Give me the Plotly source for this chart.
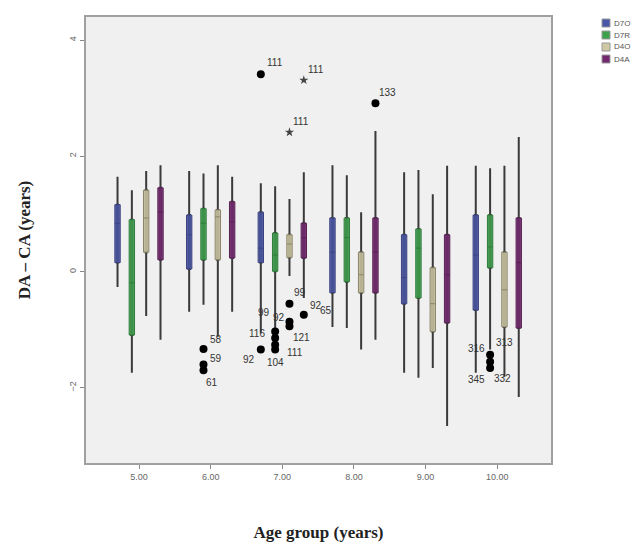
import plotly.graph_objects as go

# ---------------- data ----------------
groups = [5, 6, 7, 8, 9, 10]
tick_labels = ["5.00", "6.00", "7.00", "8.00", "9.00", "10.00"]
series = ["D7O", "D7R", "D4O", "D4A"]

d7o_upper = [1.64, 1.74, 1.53, 1.84, 1.72, 1.83]
d7o_q3 = [1.16, 0.98, 1.03, 0.93, 0.64, 0.98]
d7o_med = [0.84, 0.64, 0.41, 0.34, -0.10, 0.29]
d7o_q1 = [0.16, 0.05, 0.16, -0.36, -0.55, -0.66]
d7o_lower = [-0.26, -0.69, -1.05, -0.95, -1.74, -1.74]

d7r_upper = [1.41, 1.70, 1.48, 1.67, 1.76, 1.79]
d7r_q3 = [0.90, 1.09, 0.67, 0.93, 0.74, 0.98]
d7r_med = [-0.19, 0.84, 0.29, 0.59, 0.41, 0.43]
d7r_q1 = [-1.09, 0.21, 0.01, -0.17, -0.45, 0.07]
d7r_lower = [-1.74, -0.57, -0.98, -0.97, -1.83, -1.34]

d4o_upper = [1.74, 1.84, 1.26, 1.03, 1.34, 1.83]
d4o_q3 = [1.41, 1.07, 0.64, 0.34, 0.07, 0.34]
d4o_med = [0.93, 0.95, 0.48, -0.05, -0.55, -0.31]
d4o_q1 = [0.34, 0.21, 0.25, -0.36, -1.03, -0.95]
d4o_lower = [-0.76, -1.12, -0.07, -1.34, -1.66, -1.81]

d4a_upper = [1.84, 1.64, 1.72, 2.43, 1.83, 2.33]
d4a_q3 = [1.45, 1.21, 0.84, 0.93, 0.64, 0.93]
d4a_med = [1.03, 0.86, 0.59, 0.34, -0.05, 0.16]
d4a_q1 = [0.21, 0.24, 0.24, -0.36, -0.88, -0.97]
d4a_lower = [-1.17, -0.69, -0.45, -1.17, -2.66, -2.16]

# outliers: group, series, value, case label
out_group = [6, 6, 6, 7, 7, 7, 7, 7, 7, 7, 7, 7, 7, 8, 10, 10, 10]
out_series = ["D7R", "D7R", "D7R", "D7O", "D7O", "D7R", "D7R", "D7R", "D7R",
              "D4O", "D4O", "D4O", "D4A", "D4A", "D7R", "D7R", "D7R"]
out_value = [-1.33, -1.60, -1.70, 3.41, -1.34, -1.03, -1.14, -1.26, -1.34,
             -0.55, -0.86, -0.94, -0.74, 2.91, -1.43, -1.55, -1.66]
out_label = ["58", "59", "61", "111", "92", "116", "", "", "104",
             "99", "92", "121", "92", "133", "316", "", "345"]

# extreme values (stars)
ext_group = [7, 7]
ext_series = ["D4O", "D4A"]
ext_value = [2.41, 3.31]
ext_label = ["111", "111"]

# extra case labels printed in the clusters (group, series, value, label)
extra_group = [7, 7, 7, 10, 10]
extra_series = ["D7R", "D7R", "D4A", "D7R", "D7R"]
extra_value = [-1.03, -1.30, -0.74, -1.43, -1.66]
extra_label = ["99", "111", "65", "313", "332"]

# ---------------- styles ----------------
colors = {"D7O": "#4a56a6", "D7R": "#3ea14c", "D4O": "#cfc8a4", "D4A": "#74296f"}
fills = {"D7O": "rgba(74,86,166,0.85)", "D7R": "rgba(62,161,76,0.85)",
         "D4O": "rgba(207,200,164,0.85)", "D4A": "rgba(116,41,111,0.85)"}
edge = {"D7O": "#3a4482", "D7R": "#2f7d3b", "D4O": "#8a856a", "D4A": "#5a2056"}
offsets = {"D7O": -0.3, "D7R": -0.1, "D4O": 0.1, "D4A": 0.3}
stats = {
    "D7O": (d7o_lower, d7o_q1, d7o_med, d7o_q3, d7o_upper),
    "D7R": (d7r_lower, d7r_q1, d7r_med, d7r_q3, d7r_upper),
    "D4O": (d4o_lower, d4o_q1, d4o_med, d4o_q3, d4o_upper),
    "D4A": (d4a_lower, d4a_q1, d4a_med, d4a_q3, d4a_upper),
}

fig = go.Figure()
BW = 0.075
for s in series:
    lo, q1, md, q3, up = stats[s]
    xs = [g + offsets[s] for g in groups]
    # whiskers (dark)
    fig.add_trace(go.Box(
        x=xs, lowerfence=lo, q1=q1, median=md, q3=q3, upperfence=up,
        width=0.022, whiskerwidth=0, fillcolor="#3a3a3a",
        line=dict(color="#3a3a3a", width=2), showlegend=False,
        hoverinfo="skip", boxpoints=False))
    # coloured box
    fig.add_trace(go.Box(
        x=xs, lowerfence=q1, q1=q1, median=md, q3=q3, upperfence=q3,
        width=BW, whiskerwidth=0, fillcolor=fills[s],
        line=dict(color=edge[s], width=1), name=s, boxpoints=False,
        showlegend=False))

# outlier circles
ox = [g + offsets[s] for g, s in zip(out_group, out_series)]
fig.add_trace(go.Scatter(x=ox, y=out_value, mode="markers",
                         marker=dict(color="black", size=8), showlegend=False))
ex = [g + offsets[s] for g, s in zip(ext_group, ext_series)]
fig.add_trace(go.Scatter(x=ex, y=ext_value, mode="markers",
                         marker=dict(color="#444", size=7, symbol="star"), showlegend=False))

# label pixel shifts (style)
out_shift = [(12, 9), (12, 6), (8, -12), (14, 12), (-12, -10), (-18, -2), (0, 0), (0, 0),
             (0, -13), (11, 11), (-10, 4), (12, -11), (12, 9), (12, 11), (-14, 6), (0, 0), (-14, -11)]
ext_shift = [(12, 11), (12, 11)]
extra_shift = [(-11, 19), (20, -5), (22, 4), (14, 12), (12, -10)]

lab_font = dict(size=10, color="#333", family="Liberation Sans")
for g, s, v, t, (dx, dy) in zip(out_group, out_series, out_value, out_label, out_shift):
    if t:
        fig.add_annotation(x=g + offsets[s], y=v, text=t, showarrow=False,
                           xshift=dx, yshift=dy, font=lab_font)
for g, s, v, t, (dx, dy) in zip(ext_group, ext_series, ext_value, ext_label, ext_shift):
    fig.add_annotation(x=g + offsets[s], y=v, text=t, showarrow=False,
                       xshift=dx, yshift=dy, font=lab_font)
for g, s, v, t, (dx, dy) in zip(extra_group, extra_series, extra_value, extra_label, extra_shift):
    fig.add_annotation(x=g + offsets[s], y=v, text=t, showarrow=False,
                       xshift=dx, yshift=dy, font=lab_font)

# manual compact legend (window px -> paper coords; plot spans x 86..551, y 17..463)
PW, PH, L, T = 465.0, 446.0, 86.0, 17.0
def px(x):
    return (x - L) / PW
def py(y):
    return (T + PH - y) / PH
for i, s in enumerate(series):
    cy = 23 + 12 * i
    fig.add_shape(type="rect", xref="paper", yref="paper",
                  x0=px(602), x1=px(610), y0=py(cy + 4), y1=py(cy - 4),
                  fillcolor=colors[s], line=dict(color="#999", width=1))
    fig.add_annotation(xref="paper", yref="paper", x=px(612), y=py(cy),
                       xanchor="left", yanchor="middle", text=s, showarrow=False,
                       font=dict(size=8, color="#555", family="Liberation Sans"))

# the page body has an 8px margin, so the figure is sized/offset accordingly
fig.update_layout(
    width=636, height=534,
    margin=dict(l=78, r=93, t=9, b=79, autoexpand=False),
    paper_bgcolor="white", plot_bgcolor="#f0f0f0",
    boxmode="overlay", showlegend=False,
    xaxis=dict(range=[4.26, 10.75], tickvals=groups, ticktext=tick_labels,
               showgrid=False, zeroline=False, showline=True, mirror=True,
               linecolor="#a0a0a0", linewidth=2, ticks="outside", ticklen=4,
               tickcolor="#888", tickfont=dict(size=9, color="#666", family="Liberation Sans"),
               title=dict(text="<b>Age group (years)</b>", standoff=45,
                          font=dict(size=17, color="#222", family="Liberation Serif"))),
    yaxis=dict(range=[-3.3, 4.4], tickvals=[-2, 0, 2, 4],
               showgrid=False, zeroline=False, showline=True, mirror=True,
               linecolor="#a0a0a0", linewidth=2, ticks="outside", ticklen=4,
               tickcolor="#888", tickangle=-90,
               tickfont=dict(size=9, color="#666", family="Liberation Sans"),
               title=dict(text="<b>DA – CA (years)</b>", standoff=33,
                          font=dict(size=17, color="#222", family="Liberation Serif"))),
)

fig.write_html("out.html")
